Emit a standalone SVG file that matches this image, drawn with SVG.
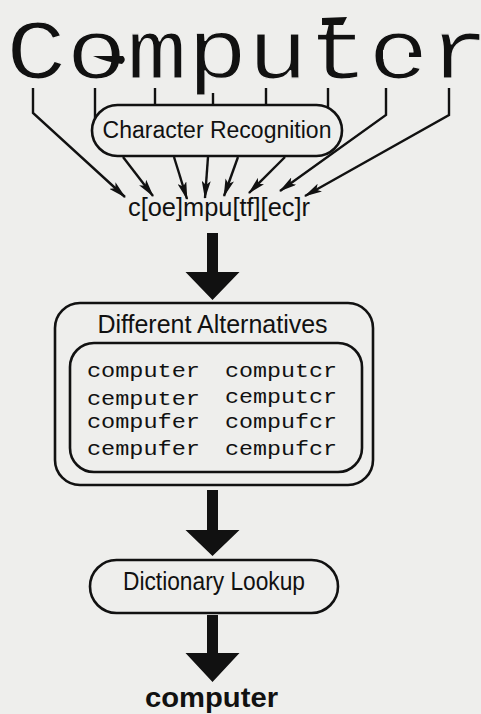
<svg xmlns="http://www.w3.org/2000/svg" width="481" height="714" viewBox="0 0 481 714">
  <style>
    .sans { font-family: "Liberation Sans", Arial, Helvetica, sans-serif; fill: #111; }
    .mono { font-family: "Liberation Mono", "Courier New", monospace; fill: #111; }
    .thin { stroke: #eeeeec; stroke-width: 1.2; stroke-linejoin: round; }
    .box { fill: none; stroke: #111; stroke-width: 2.6; }
    .wire { fill: none; stroke: #111; stroke-width: 2.4; stroke-linejoin: miter; }
    .big { fill: #111; stroke: none; }
    .paper { fill: #eeeeec; }
  </style>
  <defs>
    <marker id="head" viewBox="0 0 18 9" refX="17" refY="4.5" markerWidth="18" markerHeight="9" markerUnits="userSpaceOnUse" orient="auto">
      <path d="M0,0 L18,4.5 L0,9 L4,4.5 z" fill="#111"/>
    </marker>
  </defs>

  <rect class="paper" width="481" height="714"/>

  <!-- scanned input word, drawn light-stroked so the face reads thin -->
  <g id="scanned-word">
    <text class="mono thin" x="6" y="78" font-size="84" textLength="483" lengthAdjust="spacingAndGlyphs">Computer</text>
    <!-- break in the crossbar of the e -->
    <rect class="paper" x="383" y="50" width="26" height="9"/>
    <!-- smudges on the printed letters -->
    <path class="big" d="M93,56 Q108,56 123,56 Q127,60 122,64 Q106,62 93,56 z"/>
    <path class="big" d="M322,18 L347,17 L343,25 L322,25 z"/>
  </g>

  <g id="character-recognition">
    <rect class="box" x="92" y="105" width="250" height="51" rx="25.5"/>
    <text class="sans" x="217" y="138" font-size="23" text-anchor="middle">Character Recognition</text>
  </g>

  <g id="pattern">
    <text class="sans" x="128" y="216" font-size="25" textLength="182" lengthAdjust="spacingAndGlyphs">c[oe]mpu[tf][ec]r</text>
  </g>

  <g id="different-alternatives">
    <rect class="box" x="55" y="303" width="318" height="182" rx="25"/>
    <text class="sans" x="212.5" y="333" font-size="25" text-anchor="middle">Different Alternatives</text>
    <rect class="box" x="70" y="343" width="292" height="129" rx="24"/>
    <g class="mono" font-size="21">
      <text x="87" y="377" textLength="113" lengthAdjust="spacingAndGlyphs">computer</text>
      <text x="225" y="377" textLength="112" lengthAdjust="spacingAndGlyphs">computcr</text>
      <text x="87" y="405" textLength="113" lengthAdjust="spacingAndGlyphs">cemputer</text>
      <text x="225" y="403" textLength="112" lengthAdjust="spacingAndGlyphs">cemputcr</text>
      <text x="87" y="428" textLength="113" lengthAdjust="spacingAndGlyphs">compufer</text>
      <text x="225" y="428" textLength="112" lengthAdjust="spacingAndGlyphs">compufcr</text>
      <text x="87" y="455" textLength="113" lengthAdjust="spacingAndGlyphs">cempufer</text>
      <text x="225" y="455" textLength="112" lengthAdjust="spacingAndGlyphs">cempufcr</text>
    </g>
  </g>

  <g id="dictionary-lookup">
    <rect class="box" x="90" y="560" width="248" height="53" rx="26.5"/>
    <text class="sans" x="214" y="590" font-size="25" text-anchor="middle" textLength="182" lengthAdjust="spacingAndGlyphs">Dictionary Lookup</text>
  </g>

  <g id="result">
    <text class="sans" x="211.5" y="707" font-size="28" font-weight="bold" text-anchor="middle" textLength="133" lengthAdjust="spacingAndGlyphs">computer</text>
  </g>

  <g id="connectors">
    <!-- letters to recognizer / pattern -->
    <path class="wire" d="M33,88 V113 L125,197" marker-end="url(#head)"/>
    <path class="wire" d="M95,88 V118"/>
    <path class="wire" d="M155,88 V105"/>
    <path class="wire" d="M213,93 V105"/>
    <path class="wire" d="M266,88 V105"/>
    <path class="wire" d="M328,88 V108"/>
    <path class="wire" d="M386,88 V115 L280,191" marker-end="url(#head)"/>
    <path class="wire" d="M449,88 V115 L305,196" marker-end="url(#head)"/>
    <!-- recognizer outputs -->
    <path class="wire" d="M123,157 L153,196" marker-end="url(#head)"/>
    <path class="wire" d="M174,157 L187,199" marker-end="url(#head)"/>
    <path class="wire" d="M208,157 L205,198" marker-end="url(#head)"/>
    <path class="wire" d="M238,157 L224,196" marker-end="url(#head)"/>
    <path class="wire" d="M285,157 L249,193" marker-end="url(#head)"/>
    <!-- stage arrows -->
    <path class="big" d="M207,233 H218 V272 H239.5 L212.5,300 L185.5,272 H207 z"/>
    <path class="big" d="M207,490 H218 V530 H239.5 L212.5,556 L185.5,530 H207 z"/>
    <path class="big" d="M207,615 H218 V653 H239.5 L212.5,682 L185.5,653 H207 z"/>
  </g>
</svg>
